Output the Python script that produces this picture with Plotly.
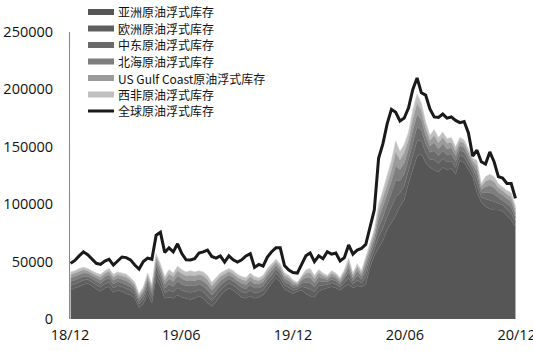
import pandas as pd
import plotly.graph_objects as go

dates = pd.date_range("2018-12-02", periods=105, freq="7D")

series_names = ["亚洲原油浮式库存", "欧洲原油浮式库存", "中东原油浮式库存",
                "北海原油浮式库存", "US Gulf Coast原油浮式库存", "西非原油浮式库存"]
total_name = "全球原油浮式库存"

asia = [25000,27000,28000,30000,31000,29000,26000,24000,27000,28000,
        23000,25000,24000,22000,21000,18000,10000,13000,22000,14000,
        36000,28000,18000,19000,18000,21000,19000,18000,17000,18000,
        20000,18000,14000,11000,15000,20000,24000,27000,25000,22000,
        19000,18000,20000,18000,19000,21000,26000,30000,36000,32000,
        26000,24000,22000,24000,25000,22000,20000,19000,24000,26000,
        27000,28000,27000,25000,28000,30000,27000,29000,28000,30000,
        45000,55000,62000,68000,78000,84000,90000,98000,104000,118000,
        130000,142000,144000,136000,132000,130000,128000,132000,130000,131000,
        126000,138000,136000,130000,124000,110000,102000,98000,96000,95000,
        95000,94000,90000,86000,80000]

europe = [4000,3800,4000,3800,3300,3200,3500,3700,3800,4000,
          4100,4000,4000,4300,3800,3500,3000,3800,4500,4000,
          5300,5000,4800,6000,5500,6300,6000,5800,6200,5700,
          5500,5800,6000,5200,5300,5000,4500,4200,4300,4200,
          4500,4500,5000,4800,4300,4200,4500,4500,4000,4000,
          3500,3500,3000,2000,3300,5300,6000,4800,4700,3500,
          2800,3500,3300,2700,3800,5800,3200,4800,3500,6300,
          5200,5800,9500,11000,11500,13500,16300,12000,12100,11300,
          13000,13500,11000,9000,7000,8800,7500,7800,6800,6700,
          6000,5000,5000,4500,4000,7000,4000,6500,7500,7300,
          5800,5300,5500,6000,4500]

mideast = [3500,3300,3500,3300,2900,2900,3100,3300,3300,3500,
           3400,3600,3500,3700,3300,3100,2600,3300,4000,3500,
           4600,4400,4200,5300,4800,5500,5300,5100,5500,5100,
           4800,5000,5300,4600,4600,4400,4000,3800,3700,3700,
           4000,3900,4400,4200,3700,3800,4000,3900,3500,3600,
           3100,3000,2600,1800,2900,4600,5300,4200,4200,3100,
           2400,3100,2900,2400,3300,5100,2900,4200,3100,5500,
           4600,5100,8400,9700,10100,11900,14300,10600,10500,9900,
           11400,11900,9700,7900,6200,7700,6600,6800,5900,6000,
           5300,4400,4400,4000,3500,6200,3500,5700,6600,6400,
           5100,4600,4800,5300,4000]

northsea = [3200,3000,3200,3000,2600,2600,2800,3000,3000,3200,
            3200,3100,3200,3400,3000,2800,2400,3000,3600,3200,
            4200,4000,3800,4800,4400,5000,4800,4600,5000,4600,
            4400,4600,4800,4200,4200,4000,3600,3400,3400,3400,
            3600,3600,4000,3800,3400,3400,3600,3600,3200,3200,
            2800,2800,2400,1600,2600,4200,4800,3800,3800,2800,
            2200,2800,2600,2200,3000,4600,2600,3800,2800,5000,
            4200,4600,7600,8800,9200,10800,13000,9600,9600,9000,
            10400,10800,8800,7200,5600,7000,6000,6200,5400,5400,
            4800,4000,4000,3600,3200,5600,3200,5200,6000,5800,
            4600,4200,4400,4800,3600]

usgc = [2900,2700,2900,2700,2300,2400,2500,2800,2700,2900,
        2900,2900,2800,3100,2700,2500,2200,2700,3200,2900,
        3800,3600,3400,4300,4000,4500,4300,4100,4500,4200,
        4000,4200,4300,3800,3800,3600,3200,3100,3000,3100,
        3200,3300,3600,3400,3100,3000,3200,3300,2900,2800,
        2500,2600,2200,1400,2300,3800,4300,3400,3500,2500,
        2000,2500,2300,2000,2700,4100,2400,3400,2500,4500,
        3800,4100,6800,7900,8300,9700,11700,8600,8700,8100,
        9400,9700,7900,6500,5000,6300,5400,5600,4900,4800,
        4300,3600,3600,3200,2900,5000,2900,4700,5400,5200,
        4100,3800,4000,4300,3200]

westafrica = [2400,2200,2400,2200,1900,1900,2100,2200,2200,2400,
              2400,2400,2500,2500,2200,2100,1800,2200,2700,2400,
              3100,3000,2800,3600,3300,3700,3600,3400,3800,3400,
              3300,3400,3600,3200,3100,3000,2700,2500,2600,2600,
              2700,2700,3000,2800,2500,2600,2700,2700,2400,2400,
              2100,2100,1800,1200,1900,3100,3600,2800,2800,2100,
              1600,2100,1900,1700,2200,3400,1900,2800,2100,3700,
              3200,3400,5700,6600,6900,8100,9700,7200,7100,6700,
              7800,8100,6600,5400,4200,5200,4500,4600,4000,4100,
              3600,3000,3000,2700,2400,4200,2400,3900,4500,4300,
              3400,3100,3300,3600,2700]

total = [48500,51000,55000,58500,56000,52000,48500,47500,50500,52000,
         47000,50500,54000,53500,51500,47000,43500,50000,53000,52000,
         73000,75500,58000,62000,58500,65500,57000,51500,51400,52500,
         57500,58500,60000,54500,53000,55000,49500,55000,51500,49500,
         51500,55000,57000,45000,47500,46000,54000,58600,62000,62000,
         46500,42700,40500,40000,47000,55000,57500,50000,55000,52500,
         58600,56500,57500,50500,53500,64500,56500,60000,61500,65000,
         80000,95000,140000,152500,170000,182600,180000,172500,175000,184000,
         200000,210000,197000,195000,183000,176000,175500,178500,175000,176000,
         173000,171000,172000,162000,142000,147000,137000,135000,145500,137000,
         124000,122800,118000,118000,105000]

tick_vals = ["2018-12-01", "2019-06-01", "2019-12-01", "2020-06-01", "2020-12-01"]
tick_text = ["18/12", "19/06", "19/12", "20/06", "20/12"]
y_ticks = [0, 50000, 100000, 150000, 200000, 250000]

colors = ["#565656", "#5f5f5f", "#6a6a6a", "#7e7e7e", "#9b9b9b", "#c0c0c0"]
edge = ["#686868", "#707070", "#7a7a7a", "#8e8e8e", "#aaaaaa", "#cdcdcd"]
line_color = "#1a1a1a"

# figure geometry (pixels)
W, H = 533, 351
ML, MR, MT, MB = 70, 16, 32, 32
PW, PH = W - ML - MR, H - MT - MB

fig = go.Figure()
for name, vals, c, e in zip(series_names, [asia, europe, mideast, northsea, usgc, westafrica], colors, edge):
    fig.add_trace(go.Scatter(x=dates, y=vals, name=name, mode="lines",
                             stackgroup="one", fillcolor=c, showlegend=False,
                             line=dict(width=0.6, color=e)))
fig.add_trace(go.Scatter(x=dates, y=total, name=total_name, mode="lines",
                         showlegend=False, line=dict(width=3, color=line_color)))

# hand-placed legend (real text)
def px_x(p):
    return (p - ML) / PW

def px_y(p):
    return (H - MB - p) / PH

legend_rows = [12, 28.5, 45, 61.5, 78, 94.5, 111]
sw_x0, sw_x1, txt_x = 88, 114, 116
shapes = []
annotations = []
for i, (name, c) in enumerate(zip(series_names, colors)):
    yc = legend_rows[i]
    shapes.append(dict(type="rect", xref="paper", yref="paper",
                       x0=px_x(sw_x0), x1=px_x(sw_x1), y0=px_y(yc + 3), y1=px_y(yc - 3),
                       fillcolor=c, line=dict(width=0)))
    annotations.append(dict(xref="paper", yref="paper", x=px_x(txt_x), y=px_y(yc),
                            xanchor="left", yanchor="middle", text=name, showarrow=False,
                            font=dict(family="Noto Sans CJK SC, sans-serif", size=12, color="#111111")))
yc = legend_rows[6]
shapes.append(dict(type="line", xref="paper", yref="paper",
                   x0=px_x(sw_x0), x1=px_x(sw_x1), y0=px_y(yc), y1=px_y(yc),
                   line=dict(width=3, color=line_color)))
annotations.append(dict(xref="paper", yref="paper", x=px_x(txt_x), y=px_y(yc),
                        xanchor="left", yanchor="middle", text=total_name, showarrow=False,
                        font=dict(family="Noto Sans CJK SC, sans-serif", size=12, color="#111111")))

font_main = "Open Sans, Noto Sans CJK SC, sans-serif"
fig.update_layout(
    width=W, height=H,
    margin=dict(l=ML, r=MR, t=MT, b=MB),
    paper_bgcolor="white", plot_bgcolor="white",
    font=dict(family=font_main, size=14.5, color="#111111"),
    showlegend=False,
    shapes=shapes, annotations=annotations,
    xaxis=dict(type="date", range=["2018-12-01", "2020-12-01 12:00"],
               tickvals=tick_vals, ticktext=tick_text, automargin=False,
               ticklabeloverflow="allow", ticklabelstandoff=5,
               showgrid=False, zeroline=False, showline=False, ticks=""),
    yaxis=dict(range=[0, 250000], tickvals=y_ticks, tickformat="d", automargin=False,
               showgrid=False, zeroline=False, showline=True,
               linecolor="#888888", linewidth=1, ticks="",
               ticklabelstandoff=13),
)

fig.write_html("out.html")
